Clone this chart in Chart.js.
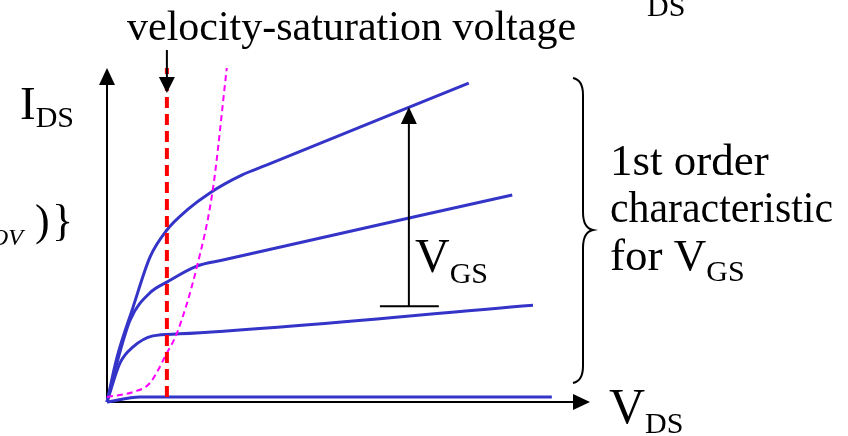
<!DOCTYPE html>
<html>
<head>
<meta charset="utf-8">
<script src="https://cdn.jsdelivr.net/npm/chart.js@4/dist/chart.umd.min.js"></script>
<style>
  html, body { margin: 0; padding: 0; background: #ffffff; }
  #wrap { width: 848px; height: 436px; position: relative; }
</style>
</head>
<body>
<div id="wrap"><canvas id="ivChart" width="848" height="436"></canvas></div>
<script>
const curveColor = '#3434c8';   // I-V characteristics
const vsatColor = '#ff0000';    // velocity-saturation line
const boundColor = '#ff00ff';   // saturation boundary
const inkColor = '#000000';
const serif = '"Liberation Serif", "Times New Roman", serif';

// I-V curves, one per gate voltage (arbitrary units)
const vdsHigh = [0, 0.20, 0.54, 0.89, 1.24, 1.66, 2.13, 2.80, 3.30, 7.49];
const idsHigh = [0, 1.30, 2.84, 4.34, 5.15, 5.75, 6.26, 6.80, 7.09, 9.55];

const vdsMid = [0, 0.22, 0.48, 0.89, 1.24, 1.86, 2.40, 8.39];
const idsMid = [0, 1.25, 2.46, 3.27, 3.59, 4.07, 4.25, 6.20];

const vdsLow = [0, 0.27, 0.54, 0.95, 1.50, 8.82];
const idsLow = [0, 1.17, 1.65, 1.98, 2.04, 2.90];

const vdsOff = [0, 0.68, 9.21];
const idsOff = [0, 0.15, 0.15];

// boundary of the square-law saturation region
const vdsBound = [0, 0.54, 0.89, 1.24, 1.45, 1.86, 2.19, 2.48];
const idsBound = [0.15, 0.30, 0.57, 1.47, 2.07, 4.04, 6.35, 10.0];

// velocity-saturation voltage
const vdsSat = 1.24;
const vsatSpan = [0.15, 10.0];

// gate-voltage arrow: from the lowest to the highest curve
const vgsArrowX = 6.25;
const vgsArrowFrom = 2.87;
const vgsArrowTo = 8.83;
const vgsBarSpan = [5.65, 6.87];

const axisMax = 10;

function toPoints(xs, ys) {
  return xs.map((x, i) => ({ x: x, y: ys[i] }));
}

function curveSet(xs, ys) {
  return {
    data: toPoints(xs, ys),
    showLine: true,
    borderColor: curveColor,
    borderWidth: 3,
    pointRadius: 0,
    cubicInterpolationMode: 'monotone',
    clip: false
  };
}

// filled triangular arrow head pointing at (tx, ty)
function arrowHead(ctx, tx, ty, dx, dy, len, half) {
  const bx = tx - dx * len, by = ty - dy * len;
  ctx.beginPath();
  ctx.moveTo(tx, ty);
  ctx.lineTo(bx - dy * half, by + dx * half);
  ctx.lineTo(bx + dy * half, by - dx * half);
  ctx.closePath();
  ctx.fill();
}

// main letter with a subscript after it
function subText(ctx, main, sub, x, y, size, subSize, drop) {
  ctx.font = size + 'px ' + serif;
  ctx.fillText(main, x, y);
  const w = ctx.measureText(main).width;
  ctx.font = subSize + 'px ' + serif;
  ctx.fillText(sub, x + w, y + drop);
}

const axesPlugin = {
  id: 'axesPlugin',
  beforeDatasetsDraw(chart) {
    const ctx = chart.ctx;
    const xs = chart.scales.x, ys = chart.scales.y;
    const x0 = xs.getPixelForValue(0), y0 = ys.getPixelForValue(0);
    const xEnd = xs.getPixelForValue(axisMax), yEnd = ys.getPixelForValue(axisMax);
    ctx.save();
    ctx.strokeStyle = inkColor;
    ctx.fillStyle = inkColor;
    ctx.lineWidth = 2;
    ctx.beginPath();
    ctx.moveTo(x0, y0);
    ctx.lineTo(x0, yEnd + 12);
    ctx.moveTo(x0, y0);
    ctx.lineTo(xEnd - 12, y0);
    ctx.stroke();
    arrowHead(ctx, x0, yEnd, 0, -1, 17, 8);
    arrowHead(ctx, xEnd, y0, 1, 0, 17, 8);
    ctx.restore();
  }
};

const notesPlugin = {
  id: 'notesPlugin',
  afterDatasetsDraw(chart) {
    const ctx = chart.ctx;
    const xs = chart.scales.x, ys = chart.scales.y;
    ctx.save();
    ctx.fillStyle = inkColor;
    ctx.strokeStyle = inkColor;
    ctx.textBaseline = 'alphabetic';

    // pointer to the velocity-saturation line
    const sx = xs.getPixelForValue(vdsSat);
    ctx.lineWidth = 2;
    ctx.beginPath();
    ctx.moveTo(sx, 50);
    ctx.lineTo(sx, 80);
    ctx.stroke();
    arrowHead(ctx, sx, 93, 0, 1, 16, 8);

    ctx.font = '42px ' + serif;
    ctx.fillText('velocity-saturation voltage', 127, 40, 455);

    // gate-voltage arrow
    const ax = xs.getPixelForValue(vgsArrowX);
    const aFrom = ys.getPixelForValue(vgsArrowFrom);
    const aTo = ys.getPixelForValue(vgsArrowTo);
    ctx.beginPath();
    ctx.moveTo(ax, aFrom);
    ctx.lineTo(ax, aTo + 14);
    ctx.moveTo(xs.getPixelForValue(vgsBarSpan[0]), aFrom);
    ctx.lineTo(xs.getPixelForValue(vgsBarSpan[1]), aFrom);
    ctx.stroke();
    arrowHead(ctx, ax, aTo, 0, -1, 17, 8);
    subText(ctx, 'V', 'GS', 415, 272, 48, 30, 11);

    // axis titles
    subText(ctx, 'I', 'DS', 20, 119, 47, 30, 8);
    subText(ctx, 'V', 'DS', 609, 423, 50, 30, 10);
    ctx.font = '30px ' + serif;
    ctx.fillText('DS', 647, 16);

    // equation fragment at the left edge
    ctx.font = 'italic 24px ' + serif;
    ctx.fillText('OV', -9, 245);
    ctx.font = '44px ' + serif;
    ctx.fillText(')', 35, 235);
    ctx.fillText('}', 52, 235);

    // brace over the curve family
    ctx.lineWidth = 2;
    ctx.beginPath();
    ctx.moveTo(573, 78);
    ctx.quadraticCurveTo(583, 80, 583, 95);
    ctx.lineTo(583, 212);
    ctx.quadraticCurveTo(583, 228, 593, 230);
    ctx.quadraticCurveTo(583, 232, 583, 248);
    ctx.lineTo(583, 366);
    ctx.quadraticCurveTo(583, 381, 573, 383);
    ctx.stroke();

    ctx.font = '45px ' + serif;
    ctx.fillText('1st order', 610, 175, 185);
    ctx.fillText('characteristic', 610, 222, 223);
    ctx.fillText('for ', 610, 270);
    const fw = ctx.measureText('for ').width;
    subText(ctx, 'V', 'GS', 610 + fw, 270, 45, 30, 11);
    ctx.restore();
  }
};

new Chart(document.getElementById('ivChart').getContext('2d'), {
  type: 'scatter',
  data: {
    datasets: [
      {
        data: toPoints([vdsSat, vdsSat], vsatSpan),
        showLine: true,
        borderColor: vsatColor,
        borderWidth: 4,
        borderDash: [11, 6],
        pointRadius: 0,
        clip: false
      },
      {
        data: toPoints(vdsBound, idsBound),
        showLine: true,
        borderColor: boundColor,
        borderWidth: 2,
        borderDash: [6, 4],
        pointRadius: 0,
        cubicInterpolationMode: 'monotone',
        clip: false
      },
      curveSet(vdsHigh, idsHigh),
      curveSet(vdsMid, idsMid),
      curveSet(vdsLow, idsLow),
      curveSet(vdsOff, idsOff)
    ]
  },
  options: {
    responsive: false,
    animation: false,
    layout: { padding: { left: 107, right: 258, top: 68, bottom: 34 } },
    scales: {
      x: { type: 'linear', min: 0, max: axisMax, display: false },
      y: { type: 'linear', min: 0, max: axisMax, display: false }
    },
    plugins: {
      legend: { display: false },
      tooltip: { enabled: false }
    }
  },
  plugins: [axesPlugin, notesPlugin]
});
</script>
</body>
</html>
